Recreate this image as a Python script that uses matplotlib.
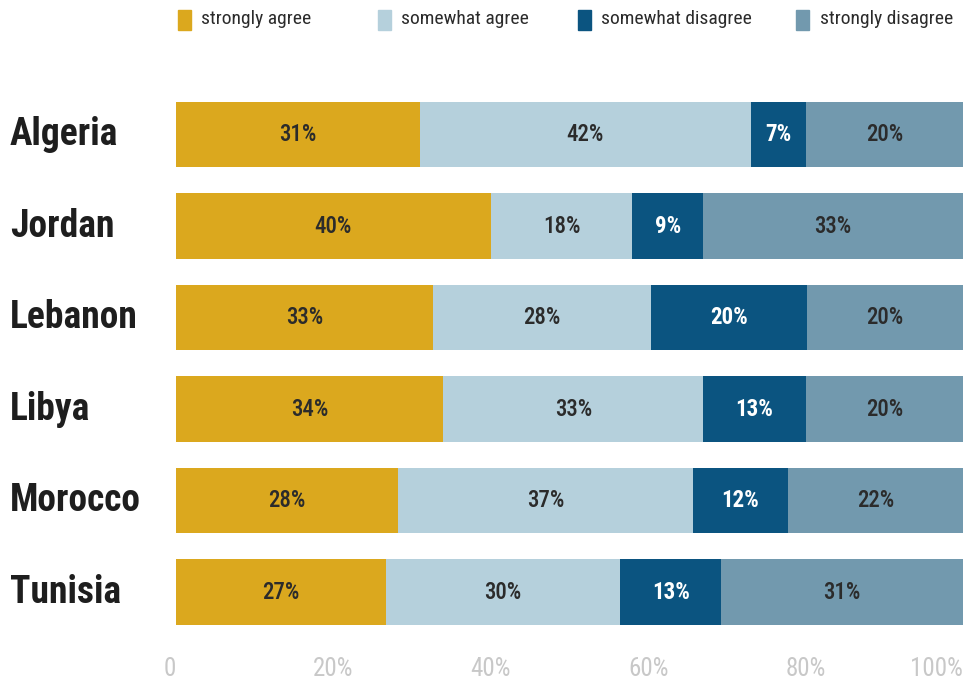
import numpy as np
import matplotlib.pyplot as plt
import matplotlib.transforms as mtransforms
from matplotlib import font_manager
from matplotlib.patches import Rectangle

# survey answers per country (percent)
countries = ['Algeria', 'Jordan', 'Lebanon', 'Libya', 'Morocco', 'Tunisia']
strongly_agree = [31, 40, 33, 34, 28, 27]
somewhat_agree = [42, 18, 28, 33, 37, 30]
somewhat_disagree = [7, 9, 20, 13, 12, 13]
strongly_disagree = [20, 33, 20, 20, 22, 31]
series_names = ['strongly agree', 'somewhat agree', 'somewhat disagree', 'strongly disagree']
xticks = [0, 20, 40, 60, 80, 100]
xtick_labels = ['0', '20%', '40%', '60%', '80%', '100%']

colors = ['#dba81e', '#b5d0dc', '#0b5480', '#7299ae']
text_colors = ['#2b2b2b', '#2b2b2b', 'white', '#2b2b2b']

# look for a narrow font, the original uses a condensed face
names = set(f.name for f in font_manager.fontManager.ttflist)
narrow = None
for cand in ['Liberation Sans Narrow', 'Roboto Condensed', 'Open Sans Condensed',
             'DejaVu Sans Condensed', 'Noto Sans Condensed']:
    if cand in names:
        narrow = cand
        break
if narrow is None:
    for f in font_manager.fontManager.ttflist:
        if f.stretch in ('condensed', 'semi-condensed', 'extra-condensed', 375, 500, 300):
            narrow = f.name
            break

if narrow is not None:
    plt.rcParams['font.family'] = [narrow, 'DejaVu Sans']
    fs_country, fs_bar, fs_tick, fs_leg = 27, 16.5, 18, 14
else:
    plt.rcParams['font.family'] = ['DejaVu Sans']
    fs_country, fs_bar, fs_tick, fs_leg = 17, 12, 14, 11

fig = plt.figure(figsize=(9.66, 6.88), dpi=100)
ax = fig.add_axes([0.182, 0.073, 0.815, 0.798])

data = np.array([strongly_agree, somewhat_agree, somewhat_disagree, strongly_disagree], dtype=float)
# rounded labels do not always sum to 100, scale each bar to full width
widths = data / data.sum(axis=0) * 100
y = np.arange(len(countries))
left = np.zeros(len(countries))
for i in range(4):
    ax.barh(y, widths[i], left=left, height=0.72, color=colors[i])
    for j in range(len(countries)):
        ax.text(left[j] + widths[i][j] / 2, y[j], '%d%%' % data[i][j],
                ha='center', va='center', fontsize=fs_bar,
                fontweight='bold' if i == 2 else 'medium',
                color=text_colors[i])
    left = left + widths[i]

ax.set_xlim(0, 100)
ax.set_ylim(len(countries) - 0.5, -0.5)
ax.set_xticks(xticks)
ax.set_xticklabels(xtick_labels, fontsize=fs_tick, color='#c8c8c8')
ax.get_xticklabels()[-1].set_ha('right')
ax.get_xticklabels()[0].set_ha('right')
ax.set_yticks([])
ax.tick_params(axis='x', length=0, pad=14)
for s in ax.spines.values():
    s.set_visible(False)

# country names at the left edge of the figure
tr = mtransforms.blended_transform_factory(fig.transFigure, ax.transData)
for j, c in enumerate(countries):
    ax.text(0.010, y[j], c, transform=tr, ha='left', va='center',
            fontsize=fs_country, fontweight='bold', color='#1e1e1e')

# legend drawn by hand across the top
leg_x = [0.184, 0.391, 0.598, 0.824]
for i in range(4):
    fig.patches.append(Rectangle((leg_x[i], 0.957), 0.0135, 0.029, transform=fig.transFigure,
                                 color=colors[i], figure=fig))
    fig.text(leg_x[i] + 0.0245, 0.972, series_names[i], ha='left', va='center',
             fontsize=fs_leg, color='#2b2b2b')

plt.savefig('out.png', dpi=100)
